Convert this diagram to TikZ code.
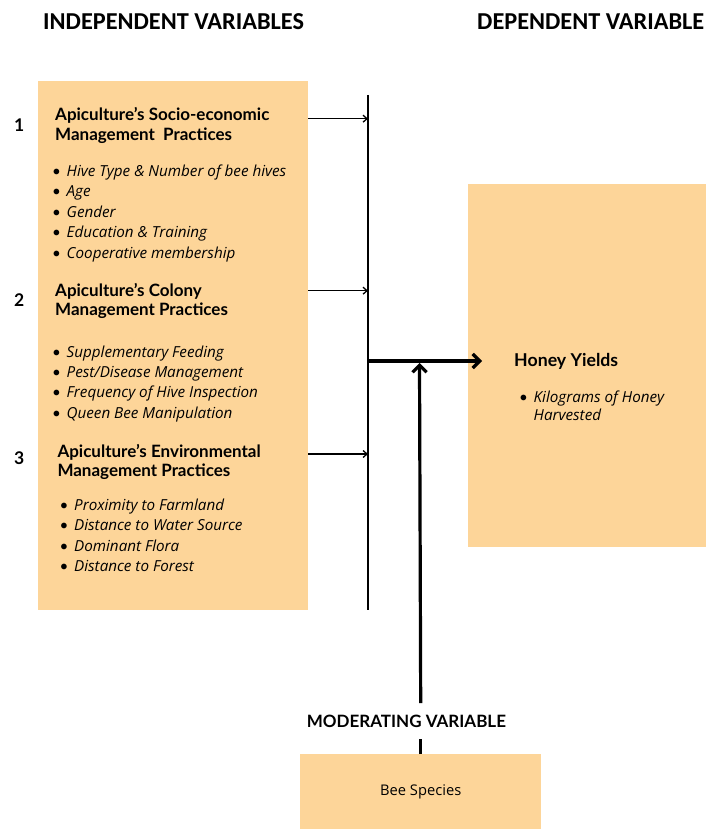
\documentclass[tikz,border=0pt]{standalone}
\usepackage{fontspec}
\setmainfont{Open Sans}
\newfontfamily\titlefont{Lato}
\newfontfamily\headfont{Carlito}
\usetikzlibrary{arrows.meta,positioning,calc}
\definecolor{boxfill}{HTML}{FDD599}
\newcommand{\bul}{\makebox[14.5pt][l]{\titlefont\upshape\textbullet}}

\begin{document}
\begin{tikzpicture}[x=1pt,y=-1pt,
  box/.style={fill=boxfill,draw=none,inner sep=0pt,anchor=north west},
  title/.style={font=\titlefont\fontsize{17}{20}\selectfont\bfseries,anchor=base west,inner sep=0pt},
  item/.style={font=\fontsize{15.2}{20}\selectfont\itshape,anchor=base west,inner sep=0pt},
  head/.style={font=\headfont\fontsize{24.3}{28}\selectfont\bfseries,anchor=base west,inner sep=0pt},
  thinarrow/.style={line width=1.3pt,-{Straight Barb[length=4pt,width=7pt]}},
  bigarrow/.style={line width=3.2pt,-{Straight Barb[length=7pt,width=14pt]}}]

\useasboundingbox (0,0) rectangle (706,829);

% headers
\node[head] (indephead) at (43,29.5) {INDEPENDENT VARIABLES};
\node[head] (dephead) at (477,29.5) {DEPENDENT VARIABLE};

% boxes
\node[box,minimum width=270pt,minimum height=529pt] (indep) at (38,81) {};
\node[box,minimum width=238pt,minimum height=363pt] (dep) at (468,184) {};
\node[box,minimum width=241pt,minimum height=75pt,
      font=\fontsize{14.7}{16}\selectfont] (mod) at (300,754) {Bee Species};

% numbers
\node[title,font=\titlefont\fontsize{17.5}{20}\selectfont\bfseries] (num1) at (14,131.7) {1};
\node[title,font=\titlefont\fontsize{17.5}{20}\selectfont\bfseries] (num2) at (14,306) {2};
\node[title,font=\titlefont\fontsize{17.5}{20}\selectfont\bfseries] (num3) at (14,464.5) {3};

% socio-economic
\node[title] (soc) at (55,120.7) {Apiculture’s Socio-economic};
\node[title] (socb) at (55,140.7) {Management\ \ Practices};
\foreach \txt [count=\i] in {Hive Type \& Number of bee hives,Age,Gender,Education \& Training,Cooperative membership}
  \node[item] (soc\i) at (52,156+20.45*\i) {\bul\txt};

% colony
\node[title] (col) at (55,296) {Apiculture’s Colony};
\node[title] (colb) at (55,315.5) {Management Practices};
\foreach \txt [count=\i] in {Supplementary Feeding,Pest/Disease Management,Frequency of Hive Inspection,Queen Bee Manipulation}
  \node[item] (col\i) at (52,337+20.25*\i) {\bul\txt};

% environmental
\node[title] (env) at (57.3,457.3) {Apiculture’s Environmental};
\node[title] (envb) at (57.3,476.7) {Management Practices};
\foreach \txt [count=\i] in {Proximity to Farmland,Distance to Water Source,Dominant Flora,Distance to Forest}
  \node[item] (env\i) at (59.5,489.6+20.5*\i) {\bul\txt};

% dependent
\node[title,font=\titlefont\fontsize{17.7}{20}\selectfont\bfseries] (honey) at (514,366) {Honey Yields};
\node[item] (kg) at (519,402) {\bul Kilograms of Honey};
\node[item] (kgb) at (533.5,420.7) {Harvested};

% moderating
\node[title] (modlabel) at (306.7,727.3) {MODERATING VARIABLE};

% connectors
\coordinate (bustop) at (368,95);
\coordinate (busbot) at (368,610);
\coordinate (a1) at (368,118.7);
\coordinate (a2) at (368,290.7);
\coordinate (a3) at (368,454);
\coordinate (join) at (367,361);
\coordinate (tip) at (482,361);
\coordinate (modtip) at (419.5,363);
\draw[line width=1.6pt] (bustop) -- (busbot);
\foreach \a in {a1,a2,a3}
  \draw[thinarrow] (indep.east |- \a) -- (\a);
\draw[bigarrow] (join) -- (tip);
\draw[bigarrow] (mod.north |- 0,703) -- (modtip);
\draw[line width=3pt] (mod.north) -- ++(0,-15);
\end{tikzpicture}
\end{document}
